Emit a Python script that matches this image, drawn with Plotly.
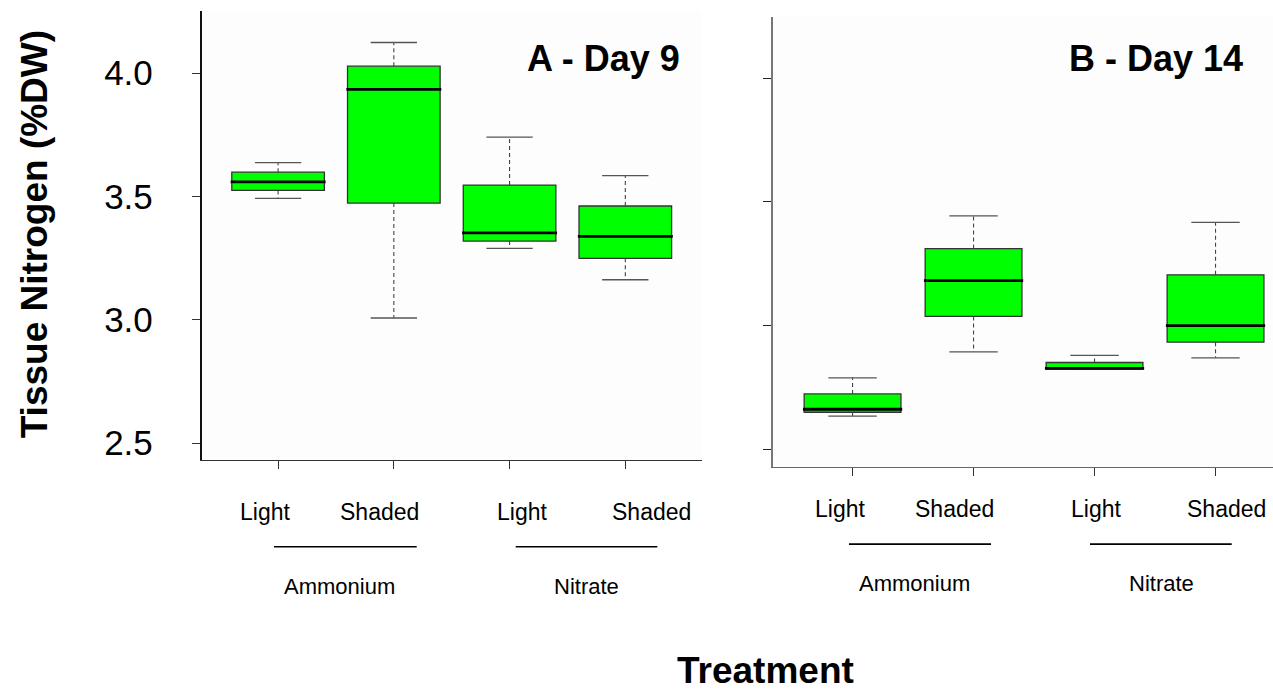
import plotly.graph_objects as go

W, H = 1273, 694

# ---------------- data ----------------
positions = [1, 2, 3, 4]
treat_labels = ["Light", "Shaded", "Light", "Shaded"]
group_labels = ["Ammonium", "Nitrate"]

# Panel A - Day 9
d9_lower = [3.492, 3.007, 3.289, 3.162]
d9_q1 = [3.524, 3.473, 3.319, 3.249]
d9_median = [3.559, 3.934, 3.352, 3.338]
d9_q3 = [3.598, 4.028, 3.546, 3.461]
d9_upper = [3.637, 4.124, 3.740, 3.584]

# Panel B - Day 14
d14_lower = [2.634, 2.894, 2.824, 2.870]
d14_q1 = [2.650, 3.037, 2.824, 2.933]
d14_median = [2.662, 3.182, 2.827, 3.000]
d14_q3 = [2.724, 3.311, 2.851, 3.205]
d14_upper = [2.789, 3.443, 2.880, 3.417]

y_ticks = [2.5, 3.0, 3.5, 4.0]
y_ticktext = ["2.5", "3.0", "3.5", "4.0"]

FONT = "Liberation Sans, Arial, sans-serif"
BOX_W = 0.8
CAP_W = 0.4

fig = go.Figure()


def add_panel(xa, ya, lower, q1, med, q3, upper):
    fig.add_trace(go.Box(
        x=positions, q1=q1, median=med, q3=q3,
        lowerfence=q1, upperfence=q3,
        width=BOX_W, whiskerwidth=0,
        fillcolor="#00FF00", line=dict(color="#333333", width=1.3),
        boxpoints=False, hoverinfo="skip", showlegend=False,
        xaxis=xa, yaxis=ya,
    ))
    wx, wy = [], []
    for p, lo, a, b, hi in zip(positions, lower, q1, q3, upper):
        wx += [p, p, None, p, p, None]
        wy += [b, hi, None, a, lo, None]
    fig.add_trace(go.Scatter(
        x=wx, y=wy, mode="lines",
        line=dict(color="#444444", width=1.1, dash="4px,3px"),
        hoverinfo="skip", showlegend=False, xaxis=xa, yaxis=ya,
    ))
    cx, cy = [], []
    for p, lo, hi in zip(positions, lower, upper):
        cx += [p - CAP_W / 2, p + CAP_W / 2, None, p - CAP_W / 2, p + CAP_W / 2, None]
        cy += [hi, hi, None, lo, lo, None]
    fig.add_trace(go.Scatter(
        x=cx, y=cy, mode="lines",
        line=dict(color="#555555", width=1.3),
        hoverinfo="skip", showlegend=False, xaxis=xa, yaxis=ya,
    ))
    mx, my = [], []
    for p, m in zip(positions, med):
        mx += [p - BOX_W / 2 - 0.01, p + BOX_W / 2 + 0.01, None]
        my += [m, m, None]
    fig.add_trace(go.Scatter(
        x=mx, y=my, mode="lines",
        line=dict(color="#000000", width=2.8),
        hoverinfo="skip", showlegend=False, xaxis=xa, yaxis=ya,
    ))


add_panel("x", "y", d9_lower, d9_q1, d9_median, d9_q3, d9_upper)
add_panel("x2", "y2", d14_lower, d14_q1, d14_median, d14_q3, d14_upper)


def px(xp):
    return xp / W


def py(yp):
    return 1 - yp / H


axis_common = dict(showgrid=False, zeroline=False, showline=True, ticks="outside",
                   ticklen=8, tickwidth=1.2, fixedrange=True)

fig.update_layout(
    width=W, height=H, autosize=False,
    margin=dict(l=0, r=0, t=0, b=0),
    paper_bgcolor="white", plot_bgcolor="#FDFDFD",
    font=dict(family=FONT, color="black"),
    xaxis=dict(domain=[px(201.7), px(701.7)], range=[0.34, 4.66], anchor="y",
               tickvals=positions, showticklabels=False,
               linecolor="#333333", linewidth=1.2, tickcolor="#333333", **axis_common),
    yaxis=dict(domain=[py(461.7), py(11)], range=[2.4297, 4.2518], anchor="x",
               tickvals=y_ticks, ticktext=y_ticktext, showticklabels=True,
               tickfont=dict(size=35, family=FONT, color="black"),
               ticklabelstandoff=32,
               linecolor="#111111", linewidth=1.8, tickcolor="#333333", **axis_common),
    xaxis2=dict(domain=[px(772.7), 1.0], range=[0.34, 4.475], anchor="y2",
                tickvals=positions, showticklabels=False,
                linecolor="#666666", linewidth=1.2, tickcolor="#333333", **axis_common),
    yaxis2=dict(domain=[py(468.3), py(17.3)], range=[2.429, 4.2457], anchor="x2",
                tickvals=y_ticks, showticklabels=False,
                linecolor="#777777", linewidth=1.6, tickcolor="#222222", **axis_common),
)

ann = []


def txt(text, x, y, size, bold=False, angle=0):
    ann.append(dict(text=f"<b>{text}</b>" if bold else text,
                    x=px(x), y=py(y), xref="paper", yref="paper",
                    xanchor="center", yanchor="middle", showarrow=False,
                    textangle=angle,
                    font=dict(size=size, family=FONT, color="black")))


# panel titles
txt("A - Day 9", 603.3, 58.4, 36, bold=True)
txt("B - Day 14", 1156.2, 58.4, 36, bold=True)
# axis titles
txt("Tissue Nitrogen (%DW)", 34, 235, 37, bold=True, angle=-90)
txt("Treatment", 765, 672, 37, bold=True)

# treatment labels
left_lab_x = [265, 380, 521.7, 652]
right_lab_x = [839.5, 955, 1096, 1226.7]
for lab, xl, xr in zip(treat_labels, left_lab_x, right_lab_x):
    txt(lab, xl, 513.5, 23)
    txt(lab, xr, 510, 23)

# group labels
for g, xl, xr in zip(group_labels, [339.5, 586], [914, 1161]):
    txt(g, xl, 588.5, 22)
    txt(g, xr, 585, 22)

fig.update_layout(annotations=ann)

# group underline bars
shapes = []
for (x0, x1, y) in [(274, 416.7, 548.3), (515.7, 657.3, 548.3),
                    (849, 991, 545.7), (1090, 1231.7, 545.7)]:
    shapes.append(dict(type="line", xref="paper", yref="paper",
                       x0=px(x0), x1=px(x1), y0=py(y), y1=py(y),
                       line=dict(color="black", width=1.6)))
fig.update_layout(shapes=shapes)

fig.write_html("out.html")
